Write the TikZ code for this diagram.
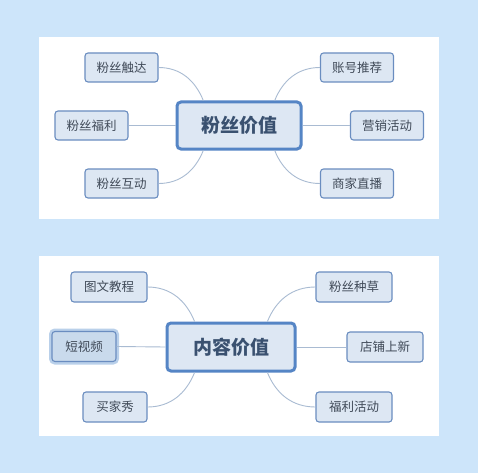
\documentclass[tikz,border=0pt]{standalone}
\usepackage{fontspec}
\newfontfamily\cjk{Noto Sans CJK SC}
\usetikzlibrary{calc}
\definecolor{bgblue}{HTML}{CDE5FA}
\definecolor{boxfill}{HTML}{DDE7F3}
\definecolor{boxline}{HTML}{6A8DC0}
\definecolor{hubline}{HTML}{5585C5}
\definecolor{textgray}{HTML}{404A58}
\definecolor{hubtext}{HTML}{3A5170}
\definecolor{linkblue}{HTML}{A9BBD2}
\definecolor{halo}{HTML}{B9D0EA}
\definecolor{pickfill}{HTML}{C9DAEC}
\tikzset{
  leaf/.style={draw=boxline, fill=boxfill, line width=1.1pt, rounded corners=3pt,
    minimum height=29pt, minimum width=73pt, inner sep=0pt,
    text=textgray, font=\cjk\fontsize{12.5}{14}\selectfont},
  hub/.style={draw=hubline, fill=boxfill, line width=3pt, rounded corners=4pt,
    minimum height=47pt, minimum width=124pt, inner sep=0pt,
    text=hubtext, font=\cjk\bfseries\fontsize{19}{22}\selectfont},
  picked/.style={fill=pickfill, preaction={draw=halo, line width=6pt}},
  link/.style={draw=linkblue, line width=0.9pt},
  panel/.style={fill=white, draw=none}
}
\begin{document}
\begin{tikzpicture}[x=1pt,y=-1pt]
    \fill[bgblue] (0,0) rectangle (478,473);
    \useasboundingbox (0,0) rectangle (478,473);
    \fill[white] (39,37) rectangle (439,219);
    \fill[white] (39,256) rectangle (439,436);
    % upper map
    \node[hub] (fans) at (239,125.5) {粉丝价值};
    \node[leaf] (reach) at (121.5,67.5) {粉丝触达};
    \node[leaf] (perk) at (91.5,125.5) {粉丝福利};
    \node[leaf] (talk) at (121.5,183.5) {粉丝互动};
    \node[leaf] (promo) at (357,67.5) {账号推荐};
    \node[leaf] (sale) at (387,125.5) {营销活动};
    \node[leaf] (live) at (357,183.5) {商家直播};
    \path[link] (fans.145) edge[out=112,in=0] (reach.east);
    \path[link] (fans.west) edge (perk.east);
    \path[link] (fans.215) edge[out=-112,in=0] (talk.east);
    \path[link] (fans.35) edge[out=68,in=180] (promo.west);
    \path[link] (fans.east) edge (sale.west);
    \path[link] (fans.325) edge[out=-68,in=180] (live.west);
    % lower map
    \node[hub, minimum width=128pt, minimum height=48pt] (content) at (231,347) {内容价值};
    \node[leaf, minimum width=76pt, minimum height=30pt] (guide) at (109,287) {图文教程};
    \node[leaf, picked, minimum width=64pt, minimum height=30pt] (clip) at (84,346.5) {短视频};
    \node[leaf, minimum width=64pt, minimum height=30pt] (show) at (115,407) {买家秀};
    \node[leaf, minimum width=76pt, minimum height=30pt] (seed) at (354,287) {粉丝种草};
    \node[leaf, minimum width=76pt, minimum height=30pt] (launch) at (385,347) {店铺上新};
    \node[leaf, minimum width=76pt, minimum height=30pt] (gift) at (354,407) {福利活动};
    \path[link] (content.145) edge[out=112,in=0] (guide.east);
    \path[link] (content.west) edge (clip.east);
    \path[link] (content.215) edge[out=-112,in=0] (show.east);
    \path[link] (content.35) edge[out=68,in=180] (seed.west);
    \path[link] (content.east) edge (launch.west);
    \path[link] (content.325) edge[out=-68,in=180] (gift.west);
\end{tikzpicture}
\end{document}
